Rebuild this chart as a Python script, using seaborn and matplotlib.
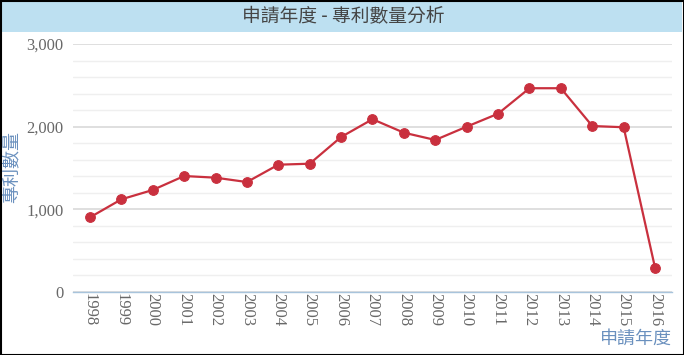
import matplotlib
matplotlib.use('Agg')
import matplotlib.pyplot as plt
import matplotlib.ticker as mticker
from matplotlib.patches import Rectangle
import pandas as pd
import seaborn as sns

years = [1998, 1999, 2000, 2001, 2002, 2003, 2004, 2005, 2006, 2007,
         2008, 2009, 2010, 2011, 2012, 2013, 2014, 2015, 2016]
counts = [903, 1121, 1234, 1403, 1383, 1330, 1540, 1552, 1875, 2090,
          1927, 1839, 2000, 2157, 2465, 2465, 2008, 1993, 293]
y_ticks = [0, 1000, 2000, 3000]

title = '申請年度 - 專利數量分析'
x_label = '申請年度'
y_label = '專利數量'

CJK = ['Noto Sans CJK TC', 'DejaVu Sans']
SERIF = ['Liberation Serif', 'DejaVu Serif']

sns.set_style('white')
plt.rcParams['font.family'] = SERIF

df = pd.DataFrame({'year': years, 'count': counts})

fig = plt.figure(figsize=(6.84, 3.55), dpi=100)
ax = fig.add_axes([73 / 684, 1 - 292 / 355, 599 / 684, 248 / 355])

# title band + outer frame
fig.patches.append(Rectangle((2 / 684, 1 - 32 / 355), 680 / 684, 30 / 355,
                             transform=fig.transFigure, facecolor='#bde0f1',
                             edgecolor='none', zorder=0))
fig.patches.append(Rectangle((0.5 / 684, 0.5 / 355), 683 / 684, 354 / 355,
                             transform=fig.transFigure, facecolor='none',
                             edgecolor='black', linewidth=1.5, zorder=5))
fig.text(0.502, 1 - 17 / 355, title, family=CJK, fontsize=13.5,
         color='#454545', ha='center', va='center')

sns.lineplot(data=df, x='year', y='count', ax=ax, color='#c9303e',
             linewidth=1.6, marker='o', markersize=7,
             markeredgecolor='#c9303e', zorder=3)

ax.set_xlim(1997.46, 2016.54)
ax.set_ylim(0, 3000)
ax.set_xticks(years)
ax.set_xticklabels([str(y) for y in years], rotation=-90, fontsize=12,
                   color='#686868')
ax.set_yticks(y_ticks)
ax.yaxis.set_major_formatter(mticker.FuncFormatter(lambda v, p: f'{int(v):,}'))
ax.yaxis.set_minor_locator(mticker.MultipleLocator(200))
ax.tick_params(axis='y', which='both', length=0, labelsize=12,
               labelcolor='#686868', pad=7)
ax.tick_params(axis='x', length=4, color='#a8c4dc', pad=-3, direction='out')

ax.grid(axis='y', which='major', color='#d6d6d6', linewidth=1.1, zorder=0)
ax.grid(axis='y', which='minor', color='#efefef', linewidth=1.0, zorder=0)
ax.set_axisbelow(True)

for s in ['top', 'right', 'left']:
    ax.spines[s].set_visible(False)
ax.spines['bottom'].set_color('#a8c4dc')
ax.spines['bottom'].set_linewidth(1.0)

ax.set_xlabel('')
ax.set_ylabel('')
fig.text(12 / 684, 1 - 167 / 355, y_label, family=CJK, fontsize=13,
         color='#6a90be', rotation=90, ha='center', va='center')
fig.text(672 / 684, 1 - 339 / 355, x_label, family=CJK, fontsize=13,
         color='#6a90be', ha='right', va='center')

fig.savefig('out.png', dpi=100)
